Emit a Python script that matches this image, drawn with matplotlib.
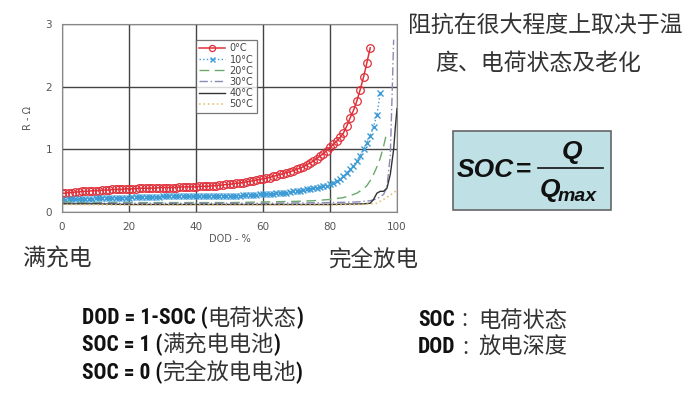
import matplotlib
matplotlib.use('Agg')
import matplotlib.pyplot as plt
from matplotlib import font_manager
from matplotlib.font_manager import FontProperties
from matplotlib.patches import Rectangle
from matplotlib.lines import Line2D

W, H = 696, 399

# ---- data ----
dod_0c = list(range(0, 93))
r_0c = [0.30, 0.30, 0.31, 0.31, 0.32, 0.32, 0.33, 0.33, 0.33, 0.34,
        0.34, 0.34, 0.35, 0.35, 0.35, 0.36, 0.36, 0.36, 0.36, 0.37,
        0.37, 0.37, 0.37, 0.38, 0.38, 0.38, 0.38, 0.38, 0.38, 0.39,
        0.39, 0.39, 0.39, 0.39, 0.39, 0.40, 0.40, 0.40, 0.40, 0.40,
        0.40, 0.41, 0.41, 0.41, 0.41, 0.42, 0.42, 0.43, 0.43, 0.44,
        0.44, 0.45, 0.46, 0.46, 0.47, 0.48, 0.49, 0.50, 0.51, 0.52,
        0.53, 0.54, 0.55, 0.57, 0.58, 0.60, 0.61, 0.63, 0.64, 0.66,
        0.68, 0.70, 0.72, 0.75, 0.78, 0.81, 0.85, 0.89, 0.93, 0.98,
        1.03, 1.08, 1.13, 1.19, 1.26, 1.37, 1.50, 1.62, 1.77, 1.95,
        2.15, 2.38, 2.62]

dod_10c = list(range(0, 96))
r_10c = [0.19, 0.19, 0.20, 0.20, 0.20, 0.20, 0.21, 0.21, 0.21, 0.21,
         0.22, 0.22, 0.22, 0.22, 0.22, 0.23, 0.23, 0.23, 0.23, 0.23,
         0.23, 0.24, 0.24, 0.24, 0.24, 0.24, 0.24, 0.24, 0.24, 0.24,
         0.25, 0.25, 0.25, 0.25, 0.25, 0.25, 0.25, 0.25, 0.25, 0.25,
         0.25, 0.25, 0.25, 0.25, 0.25, 0.26, 0.26, 0.26, 0.26, 0.26,
         0.26, 0.26, 0.26, 0.26, 0.27, 0.27, 0.27, 0.27, 0.27, 0.28,
         0.28, 0.28, 0.29, 0.29, 0.30, 0.30, 0.31, 0.31, 0.32, 0.33,
         0.33, 0.34, 0.35, 0.36, 0.37, 0.38, 0.39, 0.40, 0.41, 0.42,
         0.44, 0.46, 0.49, 0.53, 0.57, 0.62, 0.68, 0.74, 0.82, 0.90,
         1.00, 1.10, 1.22, 1.36, 1.55, 1.90]

dod_20c = [0, 5, 10, 20, 30, 40, 50, 60, 70, 75, 80, 84, 86, 88, 90, 91, 92, 93, 94, 95, 96, 97]
r_20c = [0.16, 0.15, 0.15, 0.15, 0.15, 0.15, 0.15, 0.16, 0.17, 0.18, 0.20, 0.23,
         0.26, 0.30, 0.37, 0.42, 0.50, 0.60, 0.72, 0.86, 1.05, 1.28]

dod_30c = [0, 10, 20, 40, 60, 80, 88, 92, 94, 96, 97, 98, 98.5, 99]
r_30c = [0.14, 0.14, 0.14, 0.14, 0.14, 0.15, 0.16, 0.18, 0.21, 0.28, 0.40, 0.90, 1.80, 2.75]

dod_40c = [0, 10, 20, 40, 60, 80, 90, 92, 93, 94, 95, 96, 97, 98, 99, 99.5, 100]
r_40c = [0.13, 0.13, 0.12, 0.12, 0.12, 0.12, 0.13, 0.14, 0.20, 0.30, 0.33, 0.33,
         0.38, 0.60, 1.00, 1.35, 1.65]

dod_50c = [0, 20, 40, 60, 80, 90, 94, 96, 98, 100]
r_50c = [0.12, 0.11, 0.11, 0.11, 0.11, 0.12, 0.14, 0.20, 0.27, 0.35]

x_ticks = [0, 20, 40, 60, 80, 100]
y_ticks = [0, 1, 2, 3]

# ---- fonts: look for a condensed bold latin face, else plain bold ----
cjk = 'Noto Sans CJK SC'


def weight_num(w):
    return w if isinstance(w, int) else font_manager.weight_dict.get(w, 400)


narrow = None
for pref in ['Liberation Sans Narrow', 'Roboto Condensed', 'Open Sans Condensed', 'DejaVu Sans']:
    for f in font_manager.fontManager.ttflist:
        if f.name != pref or weight_num(f.weight) < 600:
            continue
        if pref == 'DejaVu Sans' and 'Condensed' not in f.fname:
            continue
        narrow = f.fname
        break
    if narrow:
        break

if narrow:
    latin_fp = FontProperties(fname=narrow, size=15.5)
else:
    latin_fp = FontProperties(family='Liberation Sans', weight='bold', size=13.5)

fig = plt.figure(figsize=(W / 100, H / 100), dpi=100)
fig.patch.set_facecolor('white')


def fx(x):
    return x / W


def fy(y):
    return 1 - y / H


# ---- chart ----
ax = fig.add_axes([fx(62), fy(212), fx(397) - fx(62), fy(24) - fy(212)])
ax.plot(dod_0c, r_0c, color='#e0303a', lw=1.1, marker='o', ms=5.5,
        mfc='none', mec='#e0303a', mew=0.9, label='0°C')
ax.plot(dod_10c, r_10c, color='#3d9bd6', lw=1.0, ls=':', marker='x', ms=4.5,
        mew=1.0, label='10°C')
ax.plot(dod_20c, r_20c, color='#6aaa6a', lw=1.0, ls=(0, (7, 4)), label='20°C')
ax.plot(dod_30c, r_30c, color='#8a8ab8', lw=1.0, ls=(0, (6, 2, 1, 2)), label='30°C')
ax.plot(dod_40c, r_40c, color='#333333', lw=1.0, label='40°C')
ax.plot(dod_50c, r_50c, color='#e6c27a', lw=1.2, ls=':', label='50°C')

ax.set_xlim(0, 100)
ax.set_ylim(0, 3)
ax.set_xticks(x_ticks)
ax.set_yticks(y_ticks)
ax.grid(True, color='#444444', lw=1.0)
ax.set_axisbelow(True)
for s in ax.spines.values():
    s.set_color('#888888')
ax.tick_params(length=0, labelsize=7.5, labelcolor='#555555', pad=7)
ax.set_xlabel('DOD - %', fontsize=7, color='#555555', labelpad=2)
ax.set_ylabel('R - Ω', fontsize=7, color='#555555', labelpad=9)

leg = ax.legend(loc='upper left', bbox_to_anchor=(0.40, 0.915), borderaxespad=0,
                fontsize=7, frameon=True, fancybox=False, handlelength=2.6,
                handletextpad=0.5, labelspacing=0.12, borderpad=0.35,
                markerscale=0.8, alignment='right')
leg.get_frame().set_edgecolor('#555555')
leg.get_frame().set_linewidth(0.9)
for t in leg.get_texts():
    t.set_color('#444444')

# ---- right side text ----
fig.text(fx(408), fy(25), '阻抗在很大程度上取决于温', family=cjk, fontsize=16.5,
         color='#333333', va='center', ha='left')
fig.text(fx(435), fy(63), '度、电荷状态及老化', family=cjk, fontsize=16.5,
         color='#333333', va='center', ha='left')

box = Rectangle((fx(453), fy(210)), fx(611) - fx(453), fy(131) - fy(210),
                transform=fig.transFigure, facecolor='#bfe0e4', edgecolor='#666666', lw=1.2)
fig.add_artist(box)
fig.text(fx(457), fy(170), 'SOC', family='Liberation Sans', weight='bold', style='italic',
         fontsize=19, va='center', ha='left', color='#111111')
fig.text(fx(516), fy(170), '=', family='Liberation Sans', weight='bold',
         fontsize=19, va='center', ha='left', color='#111111')
fig.text(fx(572), fy(152), 'Q', family='Liberation Sans', weight='bold', style='italic',
         fontsize=19, va='center', ha='center', color='#111111')
fig.add_artist(Line2D([fx(538), fx(603)], [fy(168), fy(168)], transform=fig.transFigure,
                      color='#111111', lw=1.2))
fig.text(fx(540), fy(190), 'Q', family='Liberation Sans', weight='bold', style='italic',
         fontsize=19, va='center', ha='left', color='#111111')
fig.text(fx(558), fy(197), 'max', family='Liberation Sans', weight='bold', style='italic',
         fontsize=14, va='center', ha='left', color='#111111')

# ---- labels under chart ----
fig.text(fx(23), fy(259), '满充电', family=cjk, fontsize=16.5, color='#333333', va='center')
fig.text(fx(328), fy(259), '完全放电', family=cjk, fontsize=16.2, color='#333333', va='center')

renderer = fig.canvas.get_renderer()


def mixed_line(x, y, parts):
    # parts: (text, kind) where kind is 'b' bold latin, 'c' cjk, or a number = gap in px
    for txt, kind in parts:
        if not isinstance(kind, str):
            x += kind
            continue
        if kind == 'b':
            t = fig.text(fx(x), fy(y), txt, fontproperties=latin_fp,
                         color='#111111', va='center', ha='left')
        else:
            t = fig.text(fx(x), fy(y), txt, family=[cjk, 'DejaVu Sans'],
                         fontsize=16, color='#333333', va='center', ha='left')
        x += t.get_window_extent(renderer).width


mixed_line(82, 318, [('DOD = 1-SOC (', 'b'), ('电荷状态', 'c'), (')', 'b')])
mixed_line(82, 345, [('SOC = 1 (', 'b'), ('满充电电池', 'c'), (')', 'b')])
mixed_line(82, 373, [('SOC = 0 (', 'b'), ('完全放电电池', 'c'), (')', 'b')])
mixed_line(418, 320, [('SOC', 'b'), ('', 7), (':', 'c'), ('', 10), ('电荷状态', 'c')])
mixed_line(418, 347, [('DOD', 'b'), ('', 7), (':', 'c'), ('', 10), ('放电深度', 'c')])

fig.savefig('out.png', dpi=100)
